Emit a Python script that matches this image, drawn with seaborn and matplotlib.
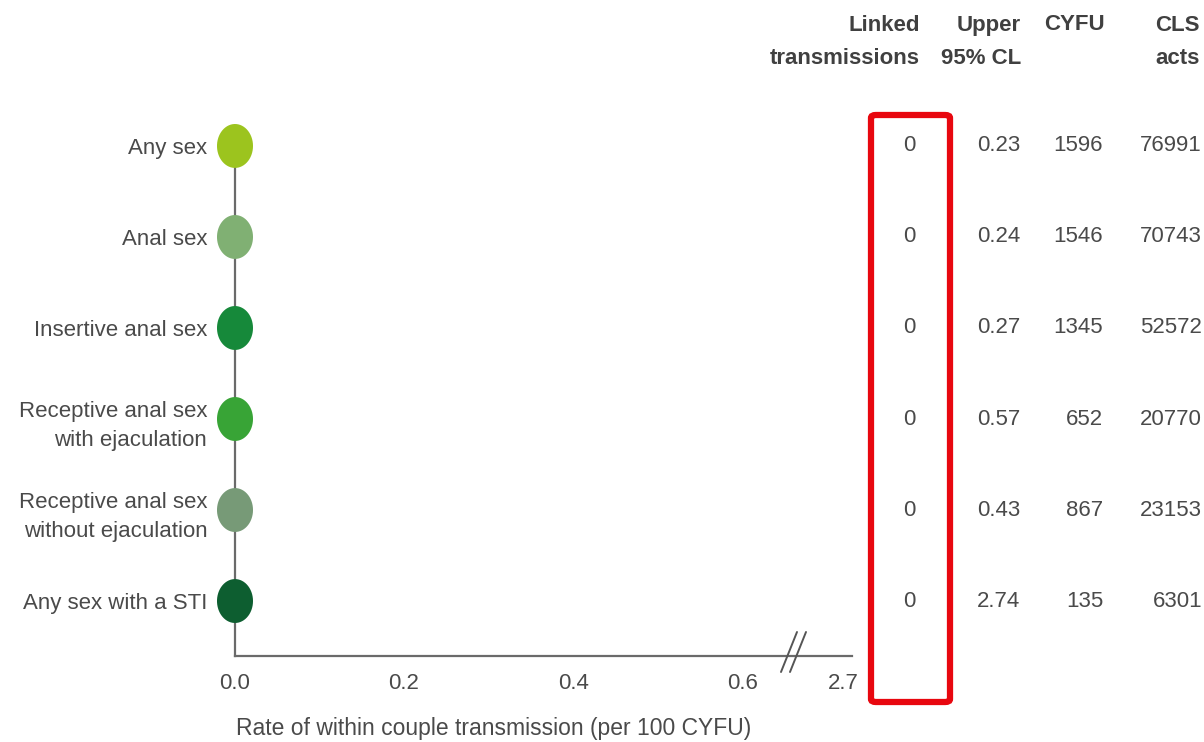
import matplotlib
matplotlib.use("Agg")
import matplotlib.pyplot as plt
import matplotlib.patches as patches
import matplotlib.transforms as mtransforms
from matplotlib.lines import Line2D
from matplotlib.path import Path
import numpy as np
import pandas as pd
import seaborn as sns

# data
categories = ["Any sex", "Anal sex", "Insertive anal sex",
              "Receptive anal sex\nwith ejaculation",
              "Receptive anal sex\nwithout ejaculation",
              "Any sex with a STI"]
rate = [0.0, 0.0, 0.0, 0.0, 0.0, 0.0]
linked = [0, 0, 0, 0, 0, 0]
upper_cl = ["0.23", "0.24", "0.27", "0.57", "0.43", "2.74"]
cyfu = [1596, 1546, 1345, 652, 867, 135]
cls_acts = [76991, 70743, 52572, 20770, 23153, 6301]
colors = ["#9cc41e", "#80b073", "#16893a", "#38a436", "#779a77", "#0d5e30"]
xticks = [0.0, 0.2, 0.4, 0.6, 0.72]
xticklabels = ["0.0", "0.2", "0.4", "0.6", "2.7"]

sns.set_style("white")
plt.rcParams["font.family"] = ["Liberation Sans", "DejaVu Sans"]

W, H = 1204, 742
fig = plt.figure(figsize=(W / 100, H / 100), dpi=100)

def fx(px):
    return px / W

def fy(py):
    return 1 - py / H

ax = fig.add_axes([fx(235), fy(656), fx(852) - fx(235), fy(100) - fy(656)])

df = pd.DataFrame({"category": categories, "rate": rate})

# slightly tall ellipse marker
t = np.linspace(0, 2 * np.pi, 60)
ell = Path(np.column_stack([0.41 * np.cos(t), 0.5 * np.sin(t)]), closed=True)

sns.scatterplot(data=df, x="rate", y="category", hue="category",
                palette=colors, marker=ell, s=1000, linewidth=0,
                legend=False, ax=ax, clip_on=False, zorder=3)

ax.set_xlim(0, 0.73)
ax.set_ylim(5.604, -0.505)
ax.set_xticks(xticks)
ax.set_xticklabels(xticklabels)
ax.set_xlabel("")
ax.set_ylabel("")
ax.tick_params(axis="both", length=0, labelsize=16, labelcolor="#4a4a4a")
ax.tick_params(axis="x", pad=12)
ax.tick_params(axis="y", pad=20)
for lab in ax.get_yticklabels():
    lab.set_linespacing(1.55)

for side in ["top", "right"]:
    ax.spines[side].set_visible(False)
for side in ["left", "bottom"]:
    ax.spines[side].set_color("#6a6a6a")
    ax.spines[side].set_linewidth(1.6)
ax.spines["left"].set_bounds(0, 5.604)

# axis break marks
for x0 in [781, 790]:
    fig.add_artist(Line2D([fx(x0), fx(x0 + 16)], [fy(672), fy(632)],
                          color="#555555", lw=1.4))

fig.text(fx(236), fy(728), "Rate of within couple transmission (per 100 CYFU)",
         ha="left", va="center", fontsize=16.5, color="#4a4a4a")

# table columns
trans = mtransforms.blended_transform_factory(fig.transFigure, ax.transData)
hdr = dict(fontsize=16, fontweight="bold", color="#404040", ha="right",
           va="center", linespacing=1.75, multialignment="right")
fig.text(fx(920), fy(42), "Linked\ntransmissions", **hdr)
fig.text(fx(1021), fy(42), "Upper\n95% CL", **hdr)
fig.text(fx(1105), fy(25), "CYFU", **hdr)
fig.text(fx(1200), fy(42), "CLS\nacts", **hdr)

val = dict(fontsize=16, color="#4a4a4a", va="center", transform=trans)
for i in range(len(categories)):
    ax.text(fx(909), i, str(linked[i]), ha="center", **val)
    ax.text(fx(1020), i, upper_cl[i], ha="right", **val)
    ax.text(fx(1103), i, str(cyfu[i]), ha="right", **val)
    ax.text(fx(1202), i, str(cls_acts[i]), ha="right", **val)

# red highlight box round the linked transmissions column
fig.add_artist(patches.FancyBboxPatch((fx(871), fy(702)), fx(950) - fx(871),
                                      fy(115) - fy(702),
                                      boxstyle="round,pad=0,rounding_size=0.004",
                                      transform=fig.transFigure, fill=False,
                                      edgecolor="#e8070f", linewidth=4.5))

fig.savefig("out.png", dpi=100)
